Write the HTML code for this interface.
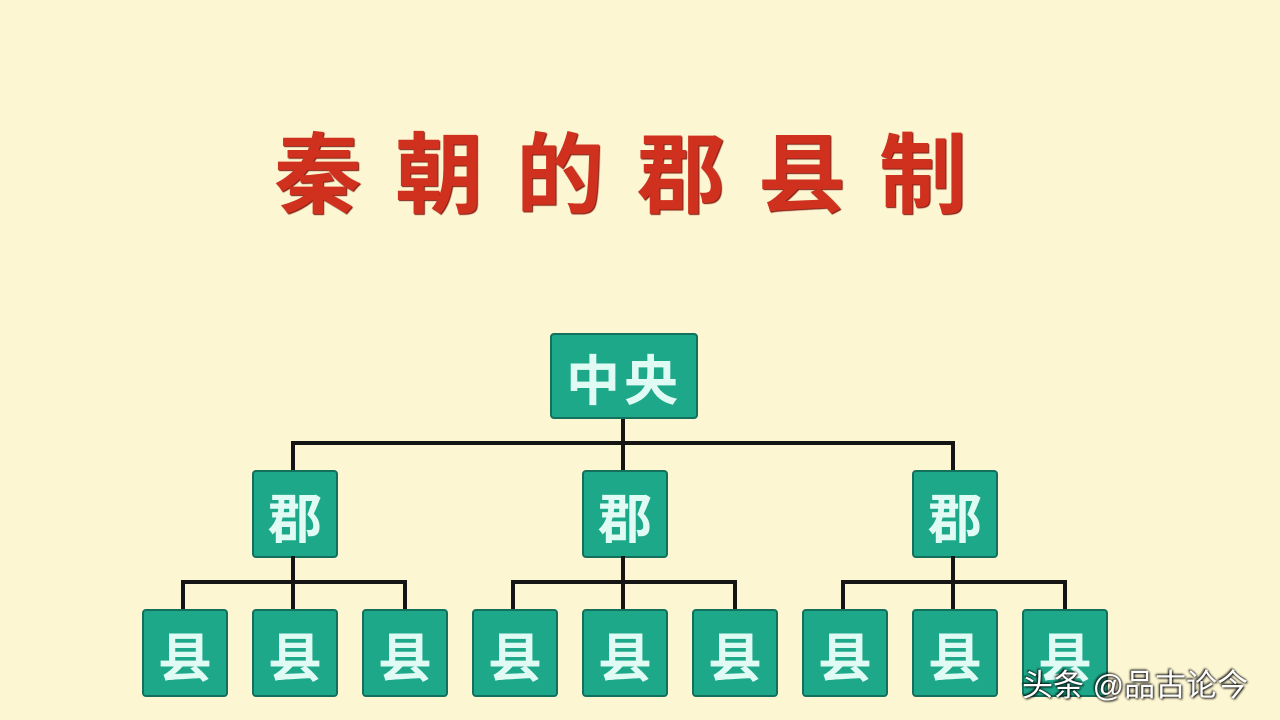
<!DOCTYPE html>
<html><head><meta charset="utf-8"><style>
body{margin:0;width:1280px;height:720px;background:#fdf6d2;position:relative;overflow:hidden;font-family:"Liberation Sans","Noto Sans CJK SC",sans-serif}
.t{position:absolute;left:274px;top:126px;font-size:88px;letter-spacing:33px;color:#d0301e;font-weight:bold;white-space:nowrap;line-height:100px;text-shadow:1px 1px 1px #7a1a10}
.b{position:absolute;background:#1ea88a;border:2px solid #12705c;border-radius:4px;box-sizing:border-box;color:#e0fbf4;font-weight:bold;display:flex;align-items:center;justify-content:center;font-size:54px}
.l{position:absolute;background:#151515}
.w{position:absolute;left:1022px;top:660px;font-size:31px;color:#fff;text-shadow:1px 1px 2px #000,-1px -1px 2px #000;white-space:nowrap}
</style></head><body>
<div class="t">秦朝的郡县制</div>
<div class="l" style="left:621px;top:416px;width:4px;height:56px"></div>
<div class="l" style="left:291px;top:441px;width:664px;height:4px"></div>
<div class="l" style="left:291px;top:441px;width:4px;height:30px"></div>
<div class="l" style="left:951px;top:441px;width:4px;height:30px"></div>
<div class="b" style="left:550px;top:333px;width:148px;height:86px;letter-spacing:4px">中央</div>
<div class="b" style="left:252px;top:470px;width:86px;height:88px">郡</div>
<div class="b" style="left:582px;top:470px;width:86px;height:88px">郡</div>
<div class="b" style="left:912px;top:470px;width:86px;height:88px">郡</div>
<div class="l" style="left:291px;top:556px;width:4px;height:28px"></div>
<div class="l" style="left:621px;top:556px;width:4px;height:28px"></div>
<div class="l" style="left:951px;top:556px;width:4px;height:28px"></div>
<div class="l" style="left:181px;top:580px;width:226px;height:4px"></div>
<div class="l" style="left:511px;top:580px;width:226px;height:4px"></div>
<div class="l" style="left:841px;top:580px;width:226px;height:4px"></div>
<div class="l" style="left:181px;top:580px;width:4px;height:30px"></div><div class="l" style="left:291px;top:580px;width:4px;height:30px"></div><div class="l" style="left:403px;top:580px;width:4px;height:30px"></div>
<div class="l" style="left:511px;top:580px;width:4px;height:30px"></div><div class="l" style="left:621px;top:580px;width:4px;height:30px"></div><div class="l" style="left:733px;top:580px;width:4px;height:30px"></div>
<div class="l" style="left:841px;top:580px;width:4px;height:30px"></div><div class="l" style="left:951px;top:580px;width:4px;height:30px"></div><div class="l" style="left:1063px;top:580px;width:4px;height:30px"></div>
<div class="b" style="left:142px;top:609px;width:86px;height:88px">县</div>
<div class="b" style="left:252px;top:609px;width:86px;height:88px">县</div>
<div class="b" style="left:362px;top:609px;width:86px;height:88px">县</div>
<div class="b" style="left:472px;top:609px;width:86px;height:88px">县</div>
<div class="b" style="left:582px;top:609px;width:86px;height:88px">县</div>
<div class="b" style="left:692px;top:609px;width:86px;height:88px">县</div>
<div class="b" style="left:802px;top:609px;width:86px;height:88px">县</div>
<div class="b" style="left:912px;top:609px;width:86px;height:88px">县</div>
<div class="b" style="left:1022px;top:609px;width:86px;height:88px">县</div>
<div class="w">头条 @品古论今</div>
</body></html>
